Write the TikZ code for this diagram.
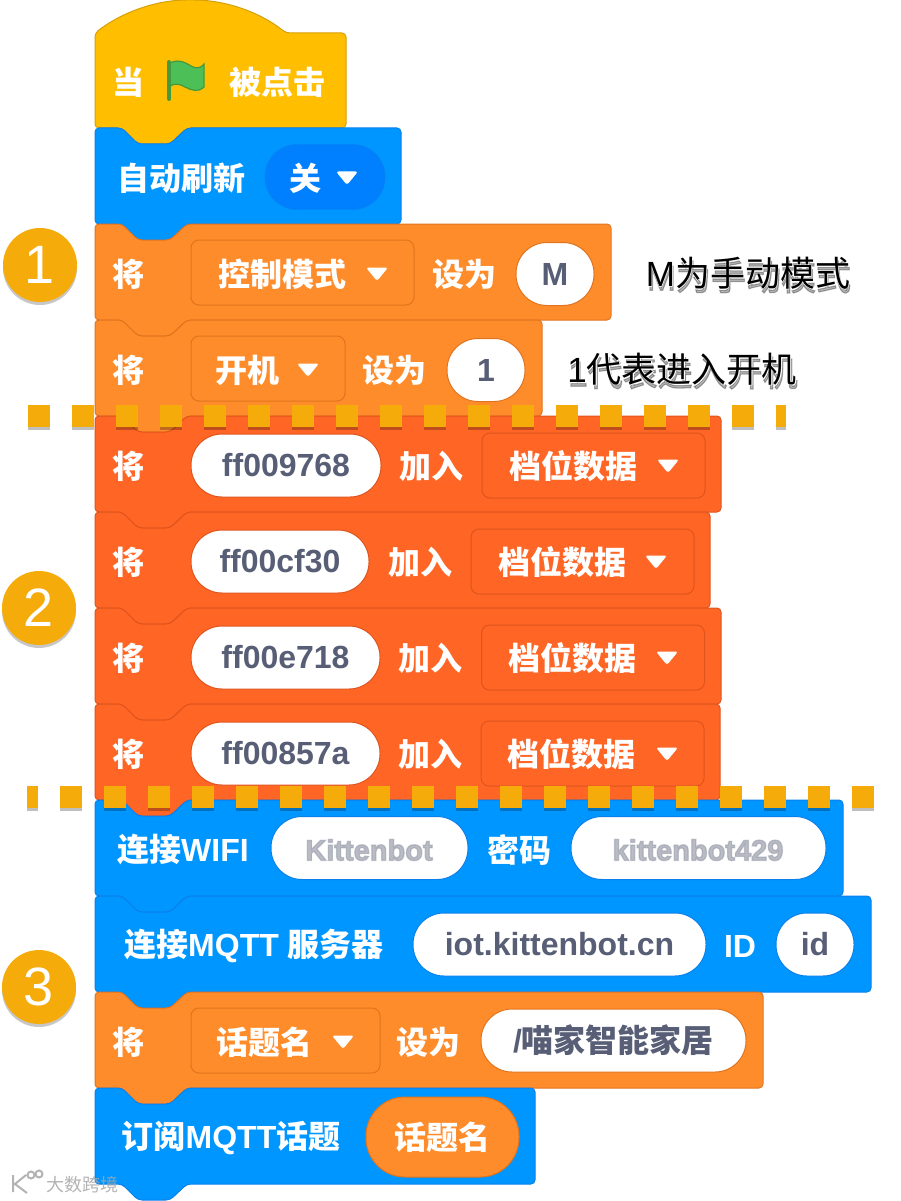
\documentclass[tikz,border=0pt]{standalone}
\usepackage{fontspec}
\setmainfont{Liberation Sans}
\newfontfamily\cjk{Noto Sans CJK SC}
\usetikzlibrary{positioning}
\definecolor{cHat}   {RGB}{255,191,0}
\definecolor{cHatB}  {RGB}{214,160,10}
\definecolor{cBlue}  {RGB}{0,150,255}
\definecolor{cBlueB} {RGB}{10,128,235}
\definecolor{cBlueD} {RGB}{0,128,255}
\definecolor{cVar}   {RGB}{255,140,43}
\definecolor{cVarB}  {RGB}{224,116,30}
\definecolor{cList}  {RGB}{255,102,38}
\definecolor{cListB} {RGB}{222,84,28}
\definecolor{cMark}  {RGB}{245,171,10}
\definecolor{cInk}   {RGB}{87,94,117}
\definecolor{cFlag}  {RGB}{76,191,86}
\definecolor{cFlagB} {RGB}{69,153,61}
\let\zhfx\relax
\newcommand{\zh}[1]{{\cjk\zhfx #1}}
% block outline: top, right, bottom
\newcommand{\blockpath}[3]{
  (95,#3) -- (95,#1) -- (122,#1) -- (138,#1+16) -- (170,#1+16) -- (187,#1)
  -- (#2,#1) -- (#2,#3) -- (187,#3) -- (170,#3+16) -- (138,#3+16) -- (122,#3) -- cycle
}
\begin{document}
\begin{tikzpicture}[
  x=1pt, y=-1pt,
  font=\fontsize{32}{32}\selectfont\bfseries,
  % ── block bodies
  blk/.style={rounded corners=4pt, line width=1pt},
  blueblk/.style={blk, fill=cBlue, draw=cBlueB},
  varblk/.style={blk, fill=cVar, draw=cVarB},
  listblk/.style={blk, fill=cList, draw=cListB},
  % ── labels
  lbl/.style={text=white, inner sep=0pt},
  note/.style={text=black, inner sep=0pt, font=\fontsize{35}{35}\selectfont},
  noteshade/.style={note, text=black, opacity=.3,
    font=\fontsize{35}{35}\selectfont\def\zhfx{\addfontfeature{FakeBold=3}}\addfontfeature{FakeBold=3}},
  notehalo/.style={note, text=white,
    font=\fontsize{35}{35}\selectfont\def\zhfx{\addfontfeature{FakeBold=2}}\addfontfeature{FakeBold=2}},
  blurhaze/.style={text=cInk, opacity=.22, inner sep=0pt,
    font=\fontsize{29}{29}\selectfont\bfseries\addfontfeature{FakeBold=5}},
  blurtxt/.style={text=cInk!55, opacity=.6, inner sep=0pt,
    font=\fontsize{29}{29}\selectfont\bfseries\addfontfeature{FakeBold=2}},
  % ── inputs
  menubox/.style={draw, rounded corners=8pt, line width=1pt, minimum height=65pt, inner sep=0pt},
  pill/.style={fill=white, text=cInk, rounded corners=31pt, minimum height=63pt, inner sep=0pt, line width=1pt},
  varpill/.style={pill, draw=cVarB},
  listpill/.style={pill, draw=cListB},
  bluepill/.style={pill, draw=cBlueB},
  % ── section markers
  stagemark/.style={circle, fill=cMark, text=white, minimum size=74pt, inner sep=0pt,
    font=\fontsize{54}{54}\selectfont},
  markshade/.style={circle, fill=black, opacity=.22, minimum size=74pt, inner sep=0pt},
  dotline/.style={draw=cMark, line width=22pt, dash pattern=on 22pt off 22pt},
  dotshade/.style={draw=black, opacity=.25, line width=22pt, dash pattern=on 22pt off 22pt},
  ddarrow/.pic={\fill[white, rounded corners=2.5pt] (-11,-6.5) -- (11,-6.5) -- (0,7) -- cycle;},
]
\useasboundingbox (0,0) rectangle (900,1201);

%% ═══ hat block
\draw[blk, fill=cHat, draw=cHatB] (95,128) -- (95,33)
  .. controls (125,10) and (160,0) .. (190,0)
  .. controls (225,0) and (260,12) .. (286,33)
  -- (346,33) -- (346,128) -- (187,128) -- (170,144) -- (138,144) -- (122,128) -- cycle;
\node[lbl] (whenT) at (128,82) {\zh{当}};
\draw[cFlagB, fill=cFlag, line width=1.2pt] (170,63) .. controls (180,58) and (187,64) .. (193,67)
  .. controls (198,69) and (202,67) .. (204,64) -- (204,87)
  .. controls (198,93) and (191,90) .. (185,87)
  .. controls (180,84) and (175,83) .. (170,86) -- cycle;
\draw[cFlagB, line width=4pt, line cap=round] (169,62) -- (169,99);
\node[lbl] (clickT) at (277,82) {\zh{被点击}};

%% ═══ refresh block
\draw[blueblk] \blockpath{128}{401}{224};
\node[lbl] (refreshT) at (181,178) {\zh{自动刷新}};
\node[fill=cBlueD, draw=cBlueB, rounded corners=32pt, minimum width=120pt, minimum height=65pt] (refreshM) at (325,177) {};
\node[lbl] (offT) at (305,178) {\zh{关}};
\pic at (347,178) {ddarrow};

%% ═══ variable blocks
\draw[varblk] \blockpath{224}{611}{320};
\node[lbl] (setA) at (128,274) {\zh{将}};
\node[menubox, draw=cVarB, minimum width=223pt] (modeM) at (302.5,272.5) {};
\node[lbl] (modeT) at (282,274) {\zh{控制模式}};
\pic at (377,274) {ddarrow};
\node[lbl] (toA) at (464,274) {\zh{设为}};
\node[varpill, minimum width=78pt] (modeV) at (555,274) {M};
\node[noteshade] at (749,277) {M\zh{为手动模式}};
\node[notehalo] at (748,273) {M\zh{为手动模式}};
\node[note] (noteA) at (748,273) {M\zh{为手动模式}};

\draw[varblk] \blockpath{320}{542}{416};
\node[lbl] (setB) at (128,370) {\zh{将}};
\node[menubox, draw=cVarB, minimum width=154pt] (powerM) at (268,368.5) {};
\node[lbl] (powerT) at (247,370) {\zh{开机}};
\pic at (308,370) {ddarrow};
\node[lbl] (toB) at (394,370) {\zh{设为}};
\node[varpill, minimum width=78pt] (powerV) at (486,370) {1};
\node[noteshade] at (683,373) {1\zh{代表进入开机}};
\node[notehalo] at (682,369) {1\zh{代表进入开机}};
\node[note] (noteB) at (682,369) {1\zh{代表进入开机}};

%% ═══ list blocks
\draw[listblk] \blockpath{416}{721}{512};
\node[lbl] (addA) at (128,466) {\zh{将}};
\node[listpill, minimum width=190pt] (codeA) at (286,465.5) {ff009768};
\node[lbl] (joinA) at (431,466) {\zh{加入}};
\node[menubox, draw=cListB, minimum width=223pt] (gearA) at (593.5,465.5) {};
\node[lbl] (gearTA) at (573,466) {\zh{档位数据}};
\pic at (668,466) {ddarrow};

\draw[listblk] \blockpath{512}{710}{608};
\node[lbl] (addB) at (128,562) {\zh{将}};
\node[listpill, minimum width=178pt] (codeB) at (280,561.5) {ff00cf30};
\node[lbl] (joinB) at (420,562) {\zh{加入}};
\node[menubox, draw=cListB, minimum width=223pt] (gearB) at (582.5,561.5) {};
\node[lbl] (gearTB) at (562,562) {\zh{档位数据}};
\pic at (656,562) {ddarrow};

\draw[listblk] \blockpath{608}{721}{704};
\node[lbl] (addC) at (128,658) {\zh{将}};
\node[listpill, minimum width=189pt] (codeC) at (285.5,657.5) {ff00e718};
\node[lbl] (joinC) at (430,658) {\zh{加入}};
\node[menubox, draw=cListB, minimum width=223pt] (gearC) at (593,657.5) {};
\node[lbl] (gearTC) at (572,658) {\zh{档位数据}};
\pic at (667,658) {ddarrow};

\draw[listblk] \blockpath{704}{720}{800};
\node[lbl] (addD) at (128,754) {\zh{将}};
\node[listpill, minimum width=189pt] (codeD) at (285.5,753.5) {ff00857a};
\node[lbl] (joinD) at (430,754) {\zh{加入}};
\node[menubox, draw=cListB, minimum width=223pt] (gearD) at (592.5,753.5) {};
\node[lbl] (gearTD) at (571,754) {\zh{档位数据}};
\pic at (667,754) {ddarrow};

%% ═══ network blocks
\draw[blueblk] \blockpath{800}{843}{896};
\node[lbl] (wifiT) at (183,850) {\zh{连接}WIFI};
\node[bluepill, minimum width=197pt] (wifiV) at (369.5,848) {};
\node[blurhaze] at (369,850) {Kittenbot};
\node[blurtxt] (wifiB) at (369,850) {Kittenbot};
\node[lbl] (pwdT) at (519,850) {\zh{密码}};
\node[bluepill, minimum width=255pt] (pwdV) at (698.5,848) {};
\node[blurhaze] at (698,850) {kittenbot429};
\node[blurtxt] (pwdB) at (698,850) {kittenbot429};

\draw[blueblk] \blockpath{896}{871}{992};
\node[lbl] (mqttT) at (254,946) {\zh{连接}MQTT \zh{服务器}};
\node[bluepill, minimum width=293pt] (hostV) at (559.5,944.5) {iot.kittenbot.cn};
\node[lbl] (idT) at (740,946) {ID};
\node[bluepill, minimum width=78pt] (idV) at (815,944.5) {id};

\draw[varblk] \blockpath{992}{763}{1088};
\node[lbl] (setC) at (128,1042) {\zh{将}};
\node[menubox, draw=cVarB, minimum width=189pt] (topicM) at (285.5,1040.5) {};
\node[lbl] (topicT) at (264,1042) {\zh{话题名}};
\pic at (343,1042) {ddarrow};
\node[lbl] (toC) at (428,1042) {\zh{设为}};
\node[varpill, minimum width=265pt] (topicV) at (613.5,1040.5) {/\zh{喵家智能家居}};

\draw[blueblk] \blockpath{1088}{535}{1184};
\node[lbl] (subT) at (231,1138) {\zh{订阅}MQTT\zh{话题}};
\node[fill=cVar, draw=cVarB, text=white, rounded corners=39pt, minimum width=153pt, minimum height=80pt, inner sep=0pt, line width=1pt] (subV) at (442.5,1137) {\zh{话题名}};

%% ═══ section markers
\node[markshade] at (40,268) {};
\node[stagemark] (markA) at (40,265) {1};
\node[markshade] at (39,611) {};
\node[stagemark] (markB) at (39,608) {2};
\node[markshade] at (39,990) {};
\node[stagemark] (markC) at (39,987) {3};

%% ═══ dotted dividers
\coordinate (dotAs) at (28,416);
\coordinate (dotAe) at (786,416);
\coordinate (dotBs) at (27,797);
\coordinate (dotBe) at (874,797);
\draw[dotshade] ([yshift=-3pt]dotAs) -- ([yshift=-3pt]dotAe);
\draw[dotline] (dotAs) -- (dotAe);
\draw[dotshade, dash phase=11pt] ([yshift=-3pt]dotBs) -- ([yshift=-3pt]dotBe);
\draw[dotline, dash phase=11pt] (dotBs) -- (dotBe);

%% ═══ watermark
\node[text=gray!70, opacity=.85, inner sep=0pt, font=\fontsize{18}{18}\selectfont] (wmT) at (82,1185) {\zh{大数跨境}};
\draw[gray!70, opacity=.85, line width=2pt] (13,1175) -- (13,1192) (26,1175) -- (15,1184) -- (27,1193)
  (31,1175) circle (3.5) (39,1174) circle (3.5);
\end{tikzpicture}
\end{document}
